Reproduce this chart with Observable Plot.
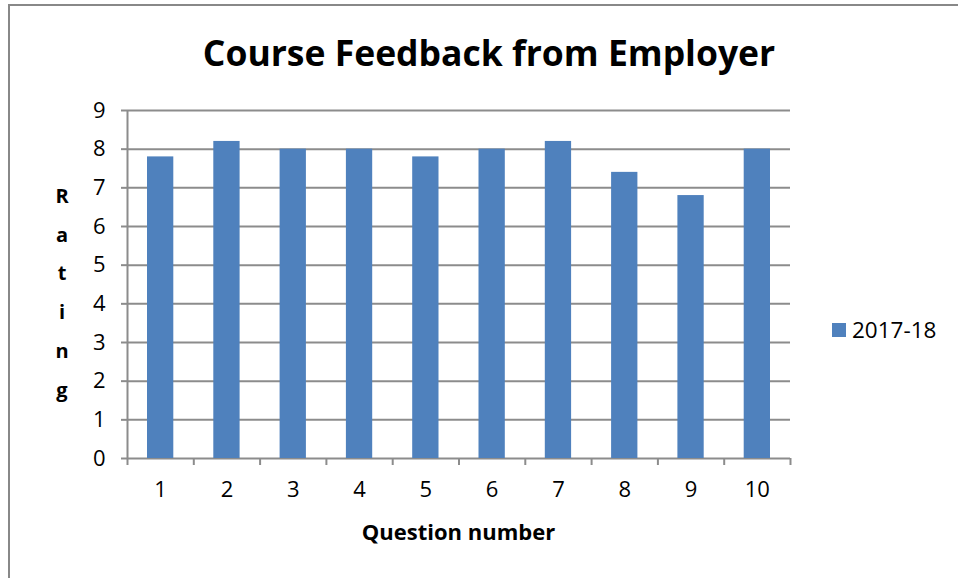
<!DOCTYPE html>
<html>
<head>
<meta charset="utf-8">
<script src="https://cdn.jsdelivr.net/npm/d3@7"></script>
<script src="https://cdn.jsdelivr.net/npm/@observablehq/plot@0.6"></script>
<style>
  html, body { margin: 0; padding: 0; background: #fff; }
  #wrap { position: relative; width: 958px; height: 578px; overflow: hidden;
          font-family: "Open Sans", sans-serif; }
  #frame { position: absolute; left: 8px; top: 4px; width: 960px; height: 600px;
           border-left: 2px solid #888; border-top: 2px solid #888; }
  #title { position: absolute; left: 0; top: 28px; width: 978px; text-align: center;
           font-size: 35.5px; font-weight: bold; color: #000; }
  #ylab { position: absolute; left: 52px; top: 177px; width: 20px; text-align: center;
          font-size: 20px; font-weight: bold; line-height: 38.7px; white-space: pre; }
  #xlab { position: absolute; left: 127px; top: 516px; width: 663px; text-align: center;
          font-size: 22px; font-weight: bold; }
  #legend { position: absolute; left: 832px; top: 314px; font-size: 22.5px; display: flex; align-items: center; }
  #legend .sw { width: 14px; height: 14px; background: #4F81BD; margin-right: 6px; }
  svg { position: absolute; left: 0; top: 0; }
</style>
</head>
<body>
<div id="wrap">
  <div id="frame"></div>
  <div id="title"></div>
  <div id="ylab"></div>
  <div id="xlab">Question number</div>
  <div id="legend"><div class="sw"></div><span id="legtxt"></span></div>
</div>
<script>
const questions = [1, 2, 3, 4, 5, 6, 7, 8, 9, 10];
const ratings = [7.8, 8.2, 8, 8, 7.8, 8, 8.2, 7.4, 6.8, 8];
const yTicks = [0, 1, 2, 3, 4, 5, 6, 7, 8, 9];
const seriesName = "2017-18";
const title = "Course Feedback from Employer";
const yLabel = "Rating";

const data = questions.map((q, i) => ({q, v: ratings[i]}));
const bounds = d3.range(0.5, questions.length + 1, 1);

document.getElementById("title").textContent = title;
document.getElementById("ylab").textContent = yLabel.split("").join("\n");
document.getElementById("legtxt").textContent = seriesName;

const grid = "#8c8c8c";
const chart = Plot.plot({
  width: 958,
  height: 578,
  marginLeft: 127,
  marginRight: 168,
  marginTop: 110,
  marginBottom: 120,
  style: {fontFamily: '"Open Sans", sans-serif', fontSize: "22px", color: "#000", background: "transparent"},
  x: {type: "linear", domain: [0.5, questions.length + 0.5]},
  y: {domain: [0, 9]},
  marks: [
    Plot.ruleY(yTicks, {stroke: grid, strokeWidth: 2}),
    Plot.rectY(data, {x1: d => d.q - 0.5, x2: d => d.q + 0.5, y: "v", fill: "#4F81BD", insetLeft: 20, insetRight: 20}),
    Plot.ruleX([0.5], {stroke: grid, strokeWidth: 2}),
    Plot.axisY({ticks: yTicks, tickSize: 6, tickPadding: 16, stroke: grid, strokeWidth: 2, label: null, fontSize: 22}),
    Plot.axisX({ticks: bounds, tickSize: 7, tickFormat: () => "", stroke: grid, strokeWidth: 2, label: null}),
    Plot.axisX({ticks: questions, tickSize: 0, tickPadding: 23, tickFormat: d => String(d), label: null, fontSize: 22})
  ]
});
document.getElementById("wrap").appendChild(chart);
</script>
</body>
</html>
